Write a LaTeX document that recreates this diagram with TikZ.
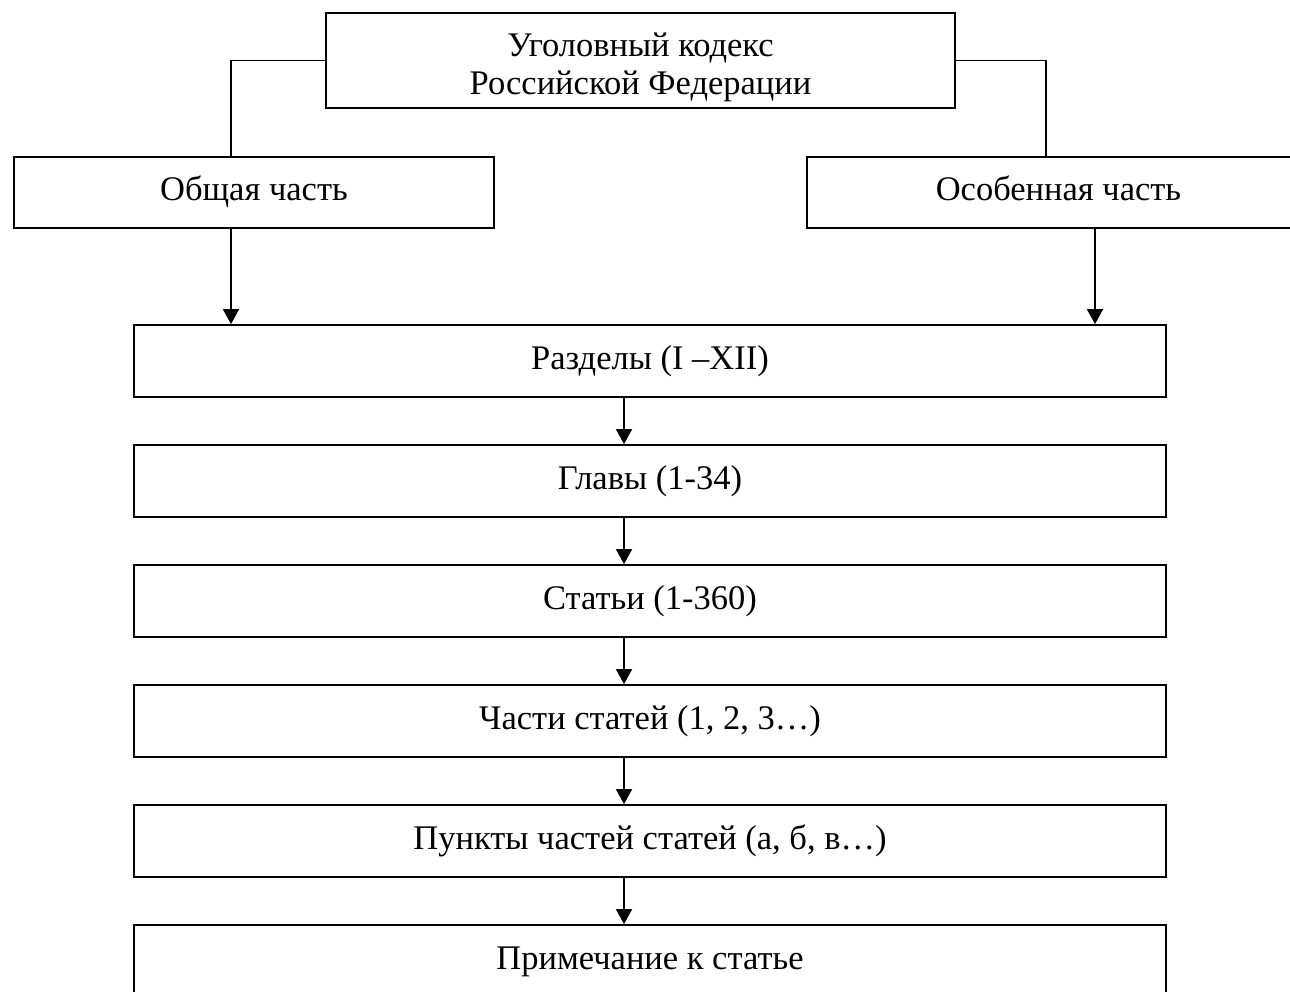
\documentclass[tikz,border=0pt]{standalone}
\usepackage{fontspec}
\setmainfont{Liberation Serif}
\usetikzlibrary{arrows.meta}
\begin{document}
\begin{tikzpicture}[x=1pt,y=-1pt,
  txt/.style={inner sep=0pt,align=center,font=\fontsize{34.5}{38}\selectfont},
  box/.style={txt,draw,line width=1.8pt,rectangle,text height=24pt,text depth=8pt},
  arr/.style={line width=1.8pt,-{Triangle[length=15pt,width=16pt]}},
  ln/.style={line width=1.8pt}]
\useasboundingbox (0,0) rectangle (1290,991);
\clip (0,0) rectangle (1290,991);
\node[draw,line width=1.8pt,rectangle,inner sep=0pt,minimum width=629pt,minimum height=95pt] (top) at (640.5,60.5) {};
\node[txt] (toptxt) at (640.5,67) {Уголовный кодекс\\Российской Федерации};
\node[box,minimum width=480pt,minimum height=71pt] (ob) at (254,192.5) {Общая часть};
\node[box,minimum width=503pt,minimum height=71pt] (os) at (1058.5,192.5) {Особенная часть};
\node[box,minimum width=1032pt,minimum height=72pt] (razd) at (650,361) {Разделы (I –XII)};
\node[box,minimum width=1032pt,minimum height=72pt] (glav) at (650,481) {Главы (1-34)};
\node[box,minimum width=1032pt,minimum height=72pt] (stat) at (650,601) {Статьи (1-360)};
\node[box,minimum width=1032pt,minimum height=72pt] (chast) at (650,721) {Части статей (1, 2, 3…)};
\node[box,minimum width=1032pt,minimum height=72pt] (punkt) at (650,841) {Пункты частей статей (а, б, в…)};
\node[box,minimum width=1032pt,minimum height=72pt] (prim) at (650,961) {Примечание к статье};
\coordinate (lj) at (231,0);
\coordinate (rj) at (1046,0);
\coordinate (ra) at (1095,0);
\coordinate (ca) at (624,0);
\draw[ln] (top.west) -| (ob.north -| lj);
\draw[ln] (top.east) -| (os.north -| rj);
\draw[arr] (ob.south -| lj) -- (razd.north -| lj);
\draw[arr] (os.south -| ra) -- (razd.north -| ra);
\draw[arr] (razd.south -| ca) -- (glav.north -| ca);
\draw[arr] (glav.south -| ca) -- (stat.north -| ca);
\draw[arr] (stat.south -| ca) -- (chast.north -| ca);
\draw[arr] (chast.south -| ca) -- (punkt.north -| ca);
\draw[arr] (punkt.south -| ca) -- (prim.north -| ca);
\end{tikzpicture}
\end{document}
